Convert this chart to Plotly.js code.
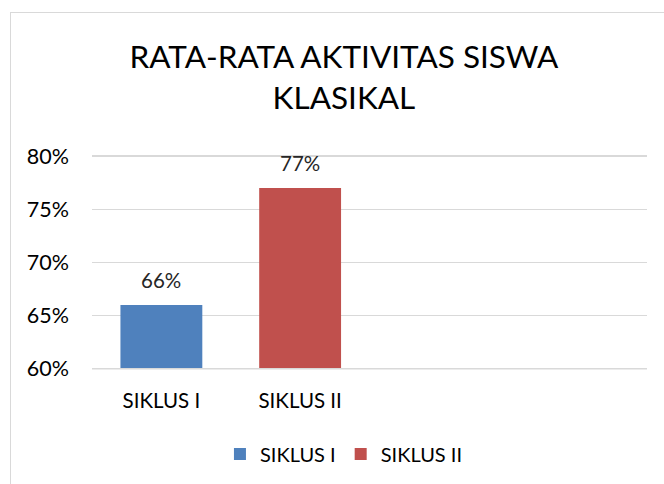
<!DOCTYPE html>
<html>
<head>
<meta charset="utf-8">
<script src="https://cdn.plot.ly/plotly-3.0.1.min.js"></script>
<style>
  html, body { margin: 0; padding: 0; background: #fff; }
  #chart { width: 664px; height: 484px; position: absolute; left: 0; top: 0; }
  #frame { position: absolute; left: 10px; top: 12px; width: 700px; height: 520px;
           border-left: 1.5px solid #d9d9d9; border-top: 1.5px solid #d9d9d9; pointer-events: none; }
</style>
</head>
<body>
<div id="chart"></div>
<div id="frame"></div>
<script>
const titleText = 'RATA-RATA AKTIVITAS SISWA<br>KLASIKAL';
const seriesNames = ['SIKLUS I', 'SIKLUS II'];
const seriesValues = [0.66, 0.77];
const seriesColors = ['#4F81BD', '#C0504D'];
const yTicks = [0.60, 0.65, 0.70, 0.75, 0.80];
const yTickLabels = ['60%', '65%', '70%', '75%', '80%'];

const FONT = 'Lato, "Open Sans", sans-serif';
const GRID = '#d9d9d9';
const yMin = yTicks[0], yMax = yTicks[yTicks.length - 1];
const pad = 0.002;

const traces = seriesNames.map((name, i) => ({
  type: 'bar',
  name: name,
  x: [name],
  y: [seriesValues[i]],
  width: 0.59,
  marker: { color: seriesColors[i] },
  hoverinfo: 'none'
}));

const annotations = seriesNames.map((name, i) => ({
  x: name, y: seriesValues[i], xref: 'x', yref: 'y',
  text: Math.round(seriesValues[i] * 100) + '%',
  showarrow: false, yanchor: 'middle', yshift: 25,
  font: { family: FONT, size: 20.5, color: '#262626' }
}));

const shapes = [
  { type: 'rect', xref: 'paper', yref: 'y', x0: 0, x1: 1, y0: yMin - pad, y1: yMin,
    fillcolor: '#fff', line: { width: 0 }, layer: 'above' },
  { type: 'line', xref: 'paper', yref: 'y', x0: 0, x1: 1, y0: yMin, y1: yMin,
    line: { color: GRID, width: 1.5 }, layer: 'above' }
];

const layout = {
  width: 664, height: 484,
  margin: { l: 92, r: 17, t: 154, b: 113 },
  paper_bgcolor: '#fff', plot_bgcolor: '#fff',
  barmode: 'overlay',
  showlegend: true,
  title: {
    text: titleText,
    x: 0.518, xanchor: 'center', xref: 'container',
    y: 1 - 68/484, yanchor: 'top', yref: 'container',
    font: { family: FONT, size: 31.5, color: '#000' }
  },
  xaxis: {
    type: 'category',
    categoryorder: 'array', categoryarray: seriesNames,
    range: [-0.5, 3.5],
    showgrid: false, zeroline: false, showline: false,
    ticks: '', ticklabelstandoff: 15,
    tickfont: { family: FONT, size: 20.5, color: '#000' },
    fixedrange: true
  },
  yaxis: {
    range: [yMin - pad, yMax + pad],
    tickvals: yTicks, ticktext: yTickLabels,
    showgrid: true, gridcolor: GRID, gridwidth: 1.5,
    zeroline: false, showline: false,
    ticks: '', ticklabelstandoff: 22,
    tickfont: { family: FONT, size: 21.5, color: '#000' },
    fixedrange: true
  },
  legend: {
    orientation: 'h', x: 0.518, xref: 'container', xanchor: 'center',
    y: 1 - 454/484, yref: 'container', yanchor: 'middle',
    font: { family: FONT, size: 20, color: '#000' },
    itemwidth: 30, traceorder: 'normal'
  },
  shapes: shapes,
  annotations: annotations
};

Plotly.newPlot('chart', traces, layout, { displayModeBar: false, staticPlot: true });
</script>
</body>
</html>
